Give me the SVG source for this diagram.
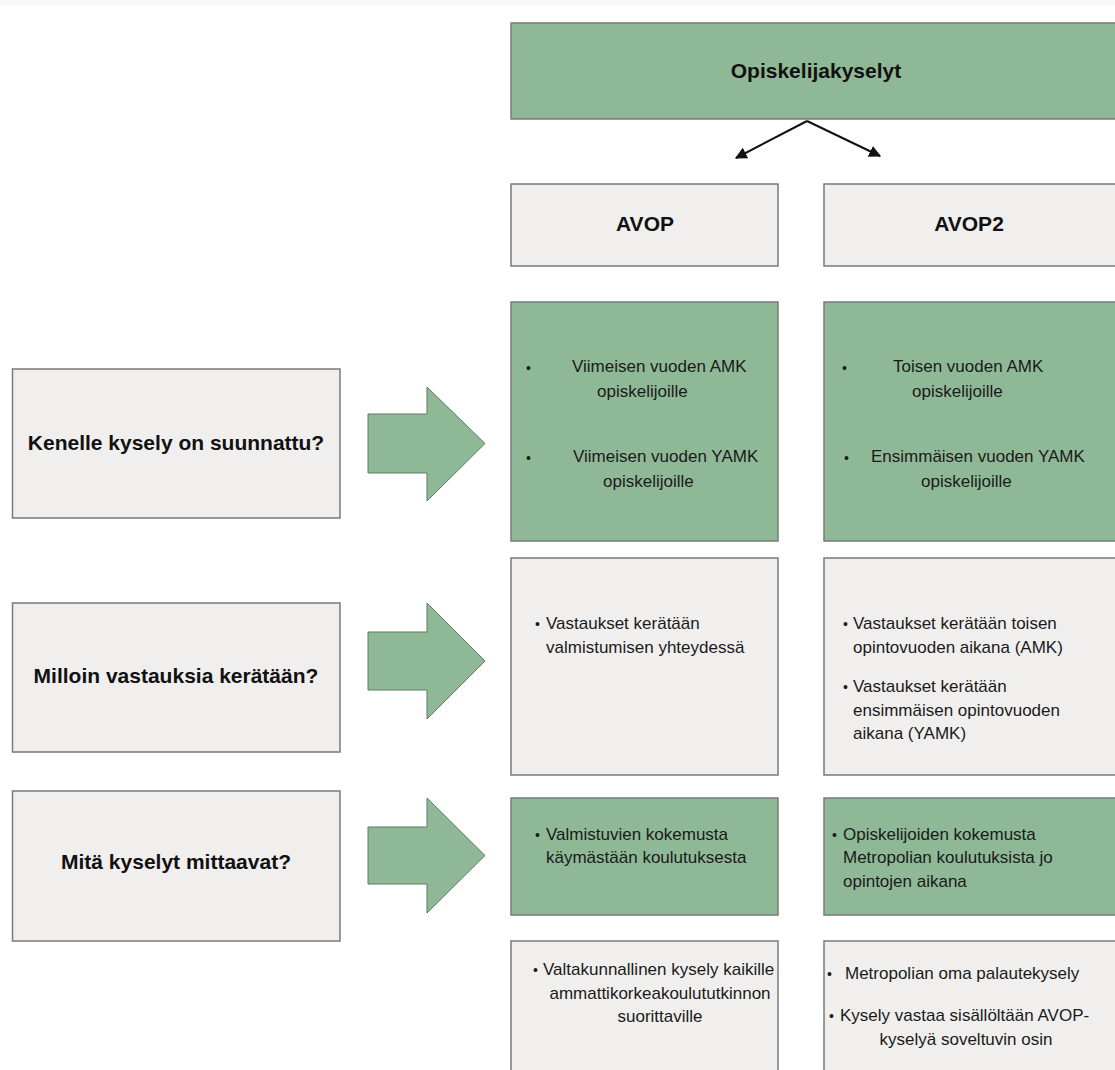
<svg xmlns="http://www.w3.org/2000/svg" width="1115" height="1070" viewBox="0 0 1115 1070">
<style>
.g{fill:#8fb996;stroke:#7a7a7a;stroke-width:1.5}
.q{fill:#f0efee;stroke:#7a7a7a;stroke-width:1.5}
.ba{fill:#8fb996;stroke:#5d7a62;stroke-width:1}
.h{font-family:"Liberation Sans",Arial,sans-serif;font-weight:bold;font-size:21px;fill:#111;text-anchor:middle}
.t{font-family:"Liberation Sans",Arial,sans-serif;font-size:17px;fill:#1a1a1a}
.b{font-family:"Liberation Sans",Arial,sans-serif;font-size:14px;fill:#1a1a1a}
.c{text-anchor:middle}
.con{stroke:#111;stroke-width:2;fill:none;marker-end:url(#ah)}
</style>
<defs>
<marker id="ah" viewBox="0 0 10 10" refX="9" refY="5" markerWidth="6" markerHeight="6" orient="auto" markerUnits="strokeWidth">
<path d="M0,0 L10,5 L0,10 z" fill="#111"/>
</marker>
</defs>
<rect x="0" y="0" width="1115" height="5" fill="#f8f8f8"/>
<g id="top"><rect class="g" x="511" y="23" width="610" height="96"/><text class="h" x="816" y="78" font-size="20">Opiskelijakyselyt</text></g>
<g id="connectors">
<line class="con" x1="807" y1="121" x2="736" y2="158"/>
<line class="con" x1="807" y1="121" x2="880" y2="156"/>
</g>
<g id="avop"><rect class="q" x="511" y="184" width="267" height="82"/><text class="h" x="645" y="231">AVOP</text></g>
<g id="avop2"><rect class="q" x="824" y="184" width="295" height="82"/><text class="h" x="969" y="231">AVOP2</text></g>

<g id="q1"><rect class="q" x="12.5" y="369" width="327.5" height="149"/><text class="h" x="176" y="450">Kenelle kysely on suunnattu?</text></g>
<g id="arrow1"><polygon class="ba" points="368,414 427,414 427,387 485,443.5 427,501 427,473 368,473"/></g>
<g id="q2"><rect class="q" x="12.5" y="603" width="327.5" height="149"/><text class="h" x="176" y="683">Milloin vastauksia kerätään?</text></g>
<g id="arrow2"><polygon class="ba" points="368,632 427,632 427,603 485,661 427,719 427,690 368,690"/></g>
<g id="q3"><rect class="q" x="12.5" y="791" width="327.5" height="150"/><text class="h" x="176" y="869">Mitä kyselyt mittaavat?</text></g>
<g id="arrow3"><polygon class="ba" points="368,827 427,827 427,798 485,855.5 427,913 427,884 368,884"/></g>

<g id="avop-r1"><rect class="g" x="511" y="302" width="267" height="239"/>
<text class="b" x="526" y="373">•</text>
<text class="t" x="572" y="372">Viimeisen vuoden AMK</text>
<text class="t" x="597" y="397">opiskelijoille</text>
<text class="b" x="526" y="463">•</text>
<text class="t" x="573" y="462">Viimeisen vuoden YAMK</text>
<text class="t" x="603" y="487">opiskelijoille</text>
</g>
<g id="avop2-r1"><rect class="g" x="824" y="302" width="295" height="239"/>
<text class="b" x="842" y="373">•</text>
<text class="t" x="893" y="372">Toisen vuoden AMK</text>
<text class="t" x="912" y="397">opiskelijoille</text>
<text class="b" x="844" y="463">•</text>
<text class="t" x="871" y="462">Ensimmäisen vuoden YAMK</text>
<text class="t" x="921" y="487">opiskelijoille</text>
</g>

<g id="avop-r2"><rect class="q" x="511" y="558" width="267" height="217"/>
<text class="b" x="535" y="629">•</text>
<text class="t" x="546" y="629">Vastaukset kerätään</text>
<text class="t" x="546" y="653">valmistumisen yhteydessä</text>
</g>
<g id="avop2-r2"><rect class="q" x="824" y="558" width="295" height="217"/>
<text class="b" x="843" y="629">•</text>
<text class="t" x="853" y="629">Vastaukset kerätään toisen</text>
<text class="t" x="853" y="653">opintovuoden aikana (AMK)</text>
<text class="b" x="843" y="692">•</text>
<text class="t" x="853" y="692">Vastaukset kerätään</text>
<text class="t" x="853" y="716">ensimmäisen opintovuoden</text>
<text class="t" x="853" y="739">aikana (YAMK)</text>
</g>

<g id="avop-r3"><rect class="g" x="511" y="798" width="267" height="117"/>
<text class="b" x="535" y="840">•</text>
<text class="t" x="546" y="840">Valmistuvien kokemusta</text>
<text class="t" x="546" y="863">käymästään koulutuksesta</text>
</g>
<g id="avop2-r3"><rect class="g" x="824" y="798" width="295" height="117"/>
<text class="b" x="832" y="840">•</text>
<text class="t" x="843" y="840">Opiskelijoiden kokemusta</text>
<text class="t" x="843" y="863">Metropolian koulutuksista jo</text>
<text class="t" x="843" y="887">opintojen aikana</text>
</g>

<g id="avop-r4"><rect class="q" x="511" y="941" width="267" height="140"/>
<text class="b" x="533" y="975">•</text>
<text class="t" x="543" y="975">Valtakunnallinen kysely kaikille</text>
<text class="t c" x="660" y="999">ammattikorkeakoulututkinnon</text>
<text class="t c" x="660" y="1022">suorittaville</text>
</g>
<g id="avop2-r4"><rect class="q" x="824" y="941" width="295" height="140"/>
<text class="b" x="827" y="979">•</text>
<text class="t" x="845" y="979">Metropolian oma palautekysely</text>
<text class="b" x="829" y="1021">•</text>
<text class="t" x="840" y="1021">Kysely vastaa sisällöltään AVOP-</text>
<text class="t c" x="966" y="1045">kyselyä soveltuvin osin</text>
</g>
</svg>
